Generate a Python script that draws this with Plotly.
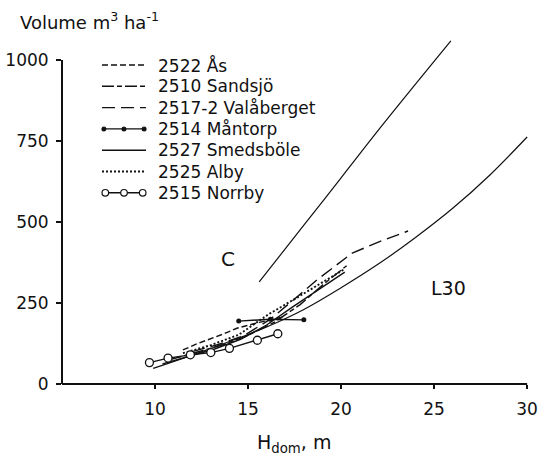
import plotly.graph_objects as go

# ---- data: stand volume (m3/ha) against dominant height (m) ----
c_h = [15.6, 18.0, 20.0, 22.1, 24.0, 25.9]
c_v = [315, 490, 636, 790, 925, 1059]

l30_h = [9.9, 12, 14, 16, 18, 20, 22, 24, 26, 28, 30]
l30_v = [48, 89, 131, 176, 230, 297, 370, 452, 542, 645, 762]

as_h = [11.5, 12.3, 13.7, 14.4, 15.6, 17.0]
as_v = [105, 125, 155, 172, 190, 208]

sandsjo_h = [10.8, 12.2, 13.6, 15.0, 16.4, 17.8, 19.1, 20.3]
sandsjo_v = [75, 97, 120, 150, 190, 245, 310, 365]

valaberget_h = [12.0, 13.4, 14.8, 16.2, 17.5, 18.7, 20.6, 22.1, 23.6]
valaberget_v = [100, 122, 150, 200, 262, 321, 404, 440, 472]

mantorp_h = [14.5, 16.2, 18.0]
mantorp_v = [194, 200, 198]

smedsbole_h = [10.4, 11.8, 13.2, 14.6, 16.0, 17.4, 18.8, 20.2]
smedsbole_v = [62, 84, 108, 138, 182, 238, 292, 345]

alby_h = [11.5, 13.0, 14.5, 16.1, 17.5, 18.8, 20.2]
alby_v = [95, 120, 152, 215, 262, 307, 355]

norrby_h = [9.7, 10.7, 11.9, 13.0, 14.0, 15.5, 16.6]
norrby_v = [66, 80, 90, 97, 110, 135, 155]

x_ticks = [10, 15, 20, 25, 30]
y_ticks = [0, 250, 500, 750, 1000]

legend_names = ["2522 Ås", "2510 Sandsjö", "2517-2 Valåberget", "2514 Måntorp",
                "2527 Smedsböle", "2525 Alby", "2515 Norrby"]

# ---- layout geometry ----
W, H = 544, 458
ML, MR, MT, MB = 62, 2, 21, 74
X_RANGE = [5, 30.8]
Y_RANGE = [0, 1120]
PW, PH = W - ML - MR, H - MT - MB

FONT = "DejaVu Sans"
INK = "#111111"


def px_to_paper(px, py):
    return (px - ML) / PW, (H - MB - py) / PH


def dx(v):
    return (v - X_RANGE[0]) / (X_RANGE[1] - X_RANGE[0])


def dy(v):
    return (v - Y_RANGE[0]) / (Y_RANGE[1] - Y_RANGE[0])


fig = go.Figure()

line_w = 1.4


def add_line(h, v, dash="solid", width=line_w, marker=None, shape="linear"):
    mode = "lines+markers" if marker else "lines"
    fig.add_trace(go.Scatter(
        x=h, y=v, mode=mode, line=dict(color=INK, width=width, dash=dash, shape=shape),
        marker=marker, showlegend=False, hoverinfo="skip"))


add_line(c_h, c_v, width=1.2, shape="spline")
add_line(l30_h, l30_v, width=1.2, shape="spline")
add_line(smedsbole_h, smedsbole_v)
add_line(sandsjo_h, sandsjo_v, dash="12px,3px,5px,3px")
add_line(valaberget_h, valaberget_v, dash="13px,6px")
add_line(as_h, as_v, dash="6px,3px")
add_line(alby_h, alby_v, dash="2px,2px", width=1.9)
add_line(mantorp_h, mantorp_v, marker=dict(size=5, color=INK, symbol="circle"))
add_line(norrby_h, norrby_v,
         marker=dict(size=8, color="white", symbol="circle", line=dict(color=INK, width=1.3)))

# ---- axes lines (stop at 30 and 1000) ----
shapes = [
    dict(type="line", xref="paper", yref="paper", x0=0, x1=dx(30), y0=0, y1=0,
         line=dict(color=INK, width=2)),
    dict(type="line", xref="paper", yref="paper", x0=0, x1=0, y0=0, y1=dy(1000),
         line=dict(color=INK, width=2)),
]

# ---- hand-drawn style legend ----
styles = [
    dict(dash="6px,3px"), dict(dash="12px,3px,5px,3px"), dict(dash="13px,6px"),
    dict(dash="solid", dots="filled"), dict(dash="solid"), dict(dash="2px,2px", width=1.9),
    dict(dash="solid", dots="open"),
]
annotations = []
row0, row_gap = 65, 21.3
sx0, sx1, tx = 102, 146, 156
for i, (name, st) in enumerate(zip(legend_names, styles)):
    py = row0 + i * row_gap
    x0, y0 = px_to_paper(sx0, py)
    x1, _ = px_to_paper(sx1, py)
    shapes.append(dict(type="line", xref="paper", yref="paper", x0=x0, x1=x1, y0=y0, y1=y0,
                       line=dict(color=INK, width=st.get("width", line_w), dash=st["dash"])))
    if "dots" in st:
        r = 1.9 if st["dots"] == "filled" else 3.3
        fill = INK if st["dots"] == "filled" else "white"
        for mx in (sx0 + r, (sx0 + sx1) / 2, sx1 - r):
            cx, cy = px_to_paper(mx, py)
            shapes.append(dict(type="circle", xref="paper", yref="paper",
                               xsizemode="pixel", ysizemode="pixel", xanchor=cx, yanchor=cy,
                               x0=-r, x1=r, y0=-r, y1=r, fillcolor=fill,
                               line=dict(color=INK, width=1.2)))
    tx_p, _ = px_to_paper(tx, py)
    annotations.append(dict(xref="paper", yref="paper", x=tx_p, y=y0, text=name,
                            showarrow=False, xanchor="left", yanchor="middle",
                            font=dict(family=FONT, size=17, color=INK)))

# curve labels and axis titles
cx, cy = px_to_paper(219, 259)
annotations.append(dict(xref="paper", yref="paper", x=cx, y=cy, text="C", showarrow=False,
                        font=dict(family=FONT, size=20, color=INK)))
lx, ly = px_to_paper(468, 301)
annotations.append(dict(xref="paper", yref="paper", x=lx, y=ly, text="L30", showarrow=False,
                        font=dict(family=FONT, size=19, color=INK)))
annotations.append(dict(xref="paper", yref="paper", x=px_to_paper(18, 0)[0],
                        y=px_to_paper(0, 21)[1], text="Volume m<sup>3</sup> ha<sup>-1</sup>",
                        showarrow=False, xanchor="left", yanchor="middle",
                        font=dict(family=FONT, size=18, color=INK)))
annotations.append(dict(xref="paper", yref="paper", x=px_to_paper(294, 0)[0],
                        y=px_to_paper(0, 443)[1], text="H<sub>dom</sub>, m",
                        showarrow=False, xanchor="center", yanchor="middle",
                        font=dict(family=FONT, size=19, color=INK)))

fig.update_layout(
    width=W, height=H, margin=dict(l=ML, r=MR, t=MT, b=MB),
    paper_bgcolor="white", plot_bgcolor="white",
    shapes=shapes, annotations=annotations, showlegend=False,
    xaxis=dict(range=X_RANGE, tickvals=x_ticks, ticktext=[str(t) for t in x_ticks],
               showgrid=False, zeroline=False, showline=False,
               ticks="outside", ticklen=4, tickwidth=1.5, tickcolor=INK,
               ticklabelstandoff=6,
               tickfont=dict(family=FONT, size=17, color=INK)),
    yaxis=dict(range=Y_RANGE, tickvals=y_ticks, ticktext=[str(t) for t in y_ticks],
               showgrid=False, zeroline=False, showline=False,
               ticks="outside", ticklen=5, tickwidth=1.5, tickcolor=INK,
               ticklabelstandoff=4,
               tickfont=dict(family=FONT, size=17, color=INK)),
)

fig.write_html("out.html")
